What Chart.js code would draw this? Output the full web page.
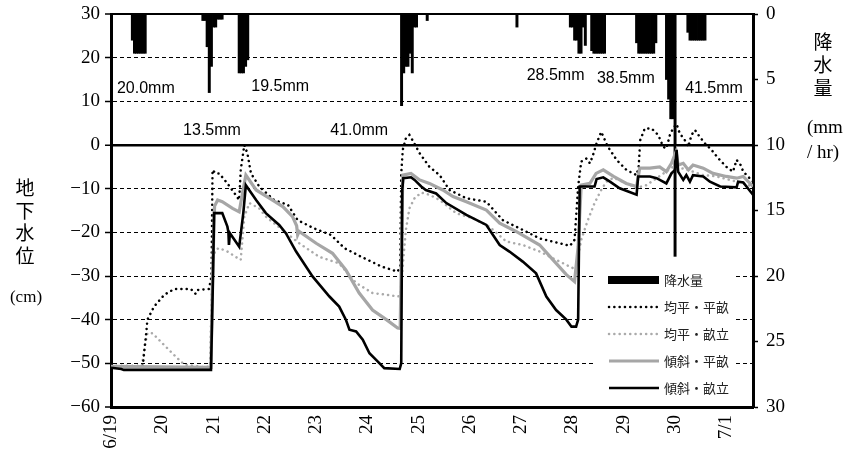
<!DOCTYPE html>
<html><head><meta charset="utf-8">
<script src="https://cdn.jsdelivr.net/npm/chart.js@4/dist/chart.umd.min.js"></script>
<style>html,body{margin:0;padding:0;background:#fff}#wrap{width:855px;height:467px;position:relative}</style>
</head><body><div id="wrap"><canvas id="c" width="855" height="467"></canvas></div>
<script>
// ---- categories / tick labels ----
const dayLabels = ['6/19','20','21','22','23','24','25','26','27','28','29','30','7/1'];
const seriesNames = ['降水量','均平・平畝','均平・畝立','傾斜・平畝','傾斜・畝立'];

// ---- hourly rainfall (hour from 6/19 0:00, mm/hr) ----
const rainHour = [10,11,12,13,14,15,16, 43,44,45,46,47,48,49,50,51,52, 60,61,62,63,64,
  136,137,138,139,140,141,142,143, 148, 190, 215,216,217,218,219,220,221,222,
  225,226,227,228,229,230,231, 246,247,248,249,250,251,252,253,254,255,
  260,261,262,263,264, 270,271,272,273,274,275,276,277,278];
const rainMm = [2,3,3,3,3,3,3, 0.5,0.5,2.5,6,4,1,1,0.4,0.4,0.4, 4.5,4.5,4.5,4,3.5,
  7,4.5,4,4,3,4.5,1,1, 0.5, 1, 1,1,2,2,3,3,1,2.4,
  2.8,3,3,3,3,3,3, 2.2,3,3,3,3,3,3,3,3,2.2,
  5,6.5,8,8,18.5, 1.4,2,2,2,2,2,2,2,2];

// ---- rain totals annotations ----
const totalText = ['20.0mm','13.5mm','19.5mm','41.0mm','28.5mm','38.5mm','41.5mm'];
const totalDay  = [0.68, 1.97, 3.30, 4.84, 8.67, 10.04, 11.76];
const totalLvl  = [13.0, 3.4, 13.3, 3.4, 15.8, 15.3, 13.0];

// ---- 均平・平畝 (black dotted) ----
const kpHeiT = [0,0.62,0.66,0.68,0.71,0.84,1.04,1.23,1.56,1.65,1.69,1.91,1.96,1.98,2.04,2.11,2.27,2.43,2.50,2.53,2.60,2.66,2.73,2.89,3.18,3.45,3.64,3.96,4.29,4.55,4.88,5.27,5.59,5.64,5.66,5.69,5.75,5.82,5.88,6.02,6.21,6.41,6.60,6.93,7.32,7.64,7.97,8.36,8.75,8.95,9.04,9.11,9.17,9.27,9.34,9.40,9.47,9.56,9.69,9.86,10.05,10.25,10.29,10.32,10.41,10.54,10.67,10.77,10.83,10.90,10.96,11.03,11.09,11.19,11.26,11.32,11.39,11.48,11.58,11.71,11.84,12.00,12.13,12.20,12.28,12.33,12.52];
const kpHeiV = [-50.6,-50.6,-46,-43.9,-40.0,-37.0,-34.3,-33.0,-33.0,-34.1,-33.2,-33.0,-30.1,-5.7,-6.5,-6.5,-8.8,-11.4,-12.6,-5.7,0.0,-1.9,-6.5,-9.5,-12.6,-13.7,-17.2,-19.1,-20.6,-23.6,-25.6,-27.8,-29.0,-27.8,-6.5,-1.1,1.5,2.3,1.1,-1.9,-5.0,-6.9,-10.3,-12.2,-13.0,-17.2,-19.1,-21.4,-22.5,-23.1,-21.7,-9.5,-3.8,-3.1,-4.2,-2.3,0.4,3.0,-0.4,-3.4,-5.7,-6.9,-5.0,1.1,3.8,3.8,2.3,-0.4,-0.8,2.3,3.8,4.8,2.7,1.1,-0.4,2.3,3.4,1.9,0.4,-1.1,-3.0,-5.0,-6.1,-3.4,-4.6,-6.1,-8.4];

// ---- 均平・畝立 (grey dotted) ----
const kpUneT = [0,0.60,0.66,0.71,0.81,1.00,1.23,1.43,1.82,1.93,1.98,2.04,2.11,2.27,2.43,2.53,2.60,2.70,2.89,3.02,3.35,3.67,4.06,4.45,4.78,5.10,5.37,5.59,5.64,5.69,5.75,5.82,5.92,6.05,6.21,6.41,6.73,7.06,7.38,7.71,8.03,8.36,8.68,9.01,9.07,9.17,9.30,9.43,9.56,9.66,9.80,10.05,10.25,10.44,10.64,10.96,11.20,11.55,11.81,12.07,12.20,12.52];
const kpUneV = [-50.7,-50.7,-46,-43.1,-43.1,-45.4,-48.1,-50.3,-50.9,-50.7,-26.3,-24.0,-23.6,-24.4,-25.6,-26.3,-16.4,-13.3,-14.5,-16.4,-19.5,-22.5,-25.6,-27.1,-31.6,-33.9,-34.3,-34.7,-34.5,-27.8,-19.5,-14.5,-12.2,-10.9,-11.4,-12.6,-15.6,-16.8,-18.7,-22.1,-22.9,-24.4,-26.3,-28.2,-27.8,-21.7,-17.2,-13.3,-10.3,-8.4,-7.5,-8.8,-9.8,-9.2,-7.6,-5.0,-5.5,-6.9,-7.2,-8.0,-8.4,-9.5];

// ---- 傾斜・平畝 (grey solid) ----
const ksHeiT = [0,1.95,1.98,2.02,2.08,2.17,2.37,2.50,2.58,2.63,2.83,3.15,3.35,3.54,3.62,3.64,3.67,4.00,4.32,4.58,4.84,5.10,5.37,5.59,5.64,5.67,5.69,5.85,6.02,6.21,6.47,6.67,6.93,7.32,7.58,7.90,8.36,8.62,8.88,9.04,9.11,9.17,9.34,9.46,9.60,9.80,10.05,10.25,10.31,10.51,10.70,10.83,10.93,11.02,11.06,11.16,11.26,11.35,11.55,11.74,12.00,12.20,12.33,12.52];
const ksHeiV = [-50.7,-50.9,-30,-14,-12.6,-13.0,-14.5,-15.3,-10,-6.9,-10.3,-12.6,-14.1,-16.4,-18.5,-20.6,-19.8,-22.5,-24.8,-28.6,-33.9,-37.8,-40.0,-41.9,-42.0,-20,-6.9,-6.5,-8.0,-8.8,-10.3,-11.8,-13.0,-14.9,-17.9,-19.8,-22.9,-26.3,-29.7,-31.3,-23.3,-9.2,-8.8,-6.5,-5.7,-7.2,-8.8,-9.5,-5.3,-5.3,-5.0,-6.1,-4.2,-1.5,-4.6,-4.2,-5.7,-4.6,-5.3,-6.5,-7.2,-7.6,-7.2,-9.5];

// ---- 傾斜・畝立 (black solid) ----
const ksUneT = [0,0.2,0.25,1.95,1.99,2.01,2.17,2.27,2.29,2.30,2.32,2.50,2.58,2.63,2.83,3.02,3.28,3.41,3.61,3.93,4.26,4.45,4.58,4.65,4.78,4.91,5.04,5.17,5.33,5.63,5.66,5.68,5.70,5.85,5.92,6.05,6.14,6.34,6.54,6.93,7.32,7.58,7.77,8.03,8.29,8.49,8.68,8.88,8.98,9.07,9.11,9.14,9.30,9.43,9.47,9.60,9.73,9.92,10.25,10.28,10.51,10.64,10.83,10.93,11.00,11.03,11.06,11.16,11.22,11.29,11.35,11.55,11.68,11.88,12.20,12.23,12.33,12.52];
const ksUneV = [-51.0,-51.3,-51.5,-51.5,-30,-15.6,-15.6,-18.7,-20.0,-22.9,-20.2,-23.3,-15.6,-9.2,-12.6,-15.6,-18.3,-20.2,-24.4,-30.1,-34.7,-37.0,-40.0,-42.3,-42.7,-44.6,-47.7,-49.2,-51.1,-51.3,-50.0,-10.3,-7.6,-7.4,-8.0,-9.5,-10.3,-11.1,-13.3,-16.0,-18.3,-22.9,-24.4,-26.7,-29.4,-34.7,-37.8,-40.0,-41.6,-41.6,-40.0,-9.5,-9.5,-9.5,-7.8,-7.4,-8.4,-9.9,-11.4,-7.2,-7.2,-7.6,-8.8,-6.5,-5.7,-1.1,-6.1,-8.0,-6.9,-8.4,-6.9,-7.2,-8.4,-9.5,-9.7,-8.4,-8.6,-11.4];

const zip = (t, v) => t.map((x, i) => ({x: x, y: v[i]}));
const rainData = rainHour.map((h, i) => ({x: h / 24, y: rainMm[i]}));

const serif = '"Liberation Serif", "DejaVu Serif", serif';
const sans = '"Liberation Sans", Arial, sans-serif';
const cjk = '"Noto Sans CJK JP", "Noto Sans", sans-serif';

const textPlugin = {
  id: 'texts',
  afterDatasetsDraw(chart) {
    const ctx = chart.ctx;
    const xs = chart.scales.x, ys = chart.scales.y;
    ctx.save();
    // rain totals
    ctx.fillStyle = '#000';
    ctx.font = '16px ' + sans;
    ctx.textAlign = 'center';
    ctx.textBaseline = 'middle';
    totalText.forEach((t, i) => {
      ctx.fillText(t, xs.getPixelForValue(totalDay[i]), ys.getPixelForValue(totalLvl[i]));
    });
    // legend
    const lx = 596, ly = 266, lw = 140, lh = 134;
    ctx.fillStyle = '#fff';
    ctx.fillRect(lx, ly, lw, lh);
    const ds = chart.data.datasets;
    ds.forEach((d, i) => {
      const y = 280 + i * 27;
      ctx.save();
      if (d.type === 'bar') {
        ctx.fillStyle = '#000';
        ctx.fillRect(608, y - 4, 51, 8);
      } else {
        ctx.strokeStyle = d.borderColor;
        ctx.lineWidth = d.borderWidth;
        ctx.lineCap = d.borderCapStyle || 'butt';
        ctx.setLineDash(d.borderDash || []);
        ctx.beginPath();
        ctx.moveTo(609, y);
        ctx.lineTo(659, y);
        ctx.stroke();
      }
      ctx.restore();
      ctx.fillStyle = '#222';
      ctx.font = '13px ' + cjk;
      ctx.textAlign = 'left';
      ctx.textBaseline = 'middle';
      ctx.fillText(d.label, 664, y);
    });
    // axis titles
    ctx.fillStyle = '#000';
    ctx.textAlign = 'center';
    ctx.textBaseline = 'middle';
    ctx.font = '19px ' + cjk;
    ['地','下','水','位'].forEach((c, i) => ctx.fillText(c, 25, 188 + i * 22.5));
    ['降','水','量'].forEach((c, i) => ctx.fillText(c, 823, 42 + i * 23));
    ctx.font = '17px ' + serif;
    ctx.fillText('(cm)', 26, 298);
    ctx.textAlign = 'left';
    ctx.font = '19px ' + serif;
    ctx.fillText('(mm', 807, 128);
    ctx.fillText('/ hr)', 807, 153);
    ctx.restore();
  }
};

const solidAt = [30, 0, -60];
const noPad = s => { s.paddingTop = 0; s.paddingBottom = 0; };

new Chart(document.getElementById('c'), {
  type: 'line',
  data: {
    datasets: [
      { type: 'bar', label: seriesNames[0], data: rainData, yAxisID: 'y2', xAxisID: 'x',
        backgroundColor: '#000', borderWidth: 0, barThickness: 2.3, order: 5 },
      { label: seriesNames[1], data: zip(kpHeiT, kpHeiV), yAxisID: 'y', borderColor: '#000',
        borderWidth: 2.5, borderDash: [0.1, 5.2], borderCapStyle: 'round', pointRadius: 0, tension: 0, order: 3 },
      { label: seriesNames[2], data: zip(kpUneT, kpUneV), yAxisID: 'y', borderColor: '#aaaaaa',
        borderWidth: 2.5, borderDash: [0.1, 5.2], borderCapStyle: 'round', pointRadius: 0, tension: 0, order: 4 },
      { label: seriesNames[3], data: zip(ksHeiT, ksHeiV), yAxisID: 'y', borderColor: '#a6a6a6',
        borderWidth: 3.2, pointRadius: 0, tension: 0, order: 2 },
      { label: seriesNames[4], data: zip(ksUneT, ksUneV), yAxisID: 'y', borderColor: '#000',
        borderWidth: 2.6, pointRadius: 0, tension: 0, order: 1 }
    ]
  },
  options: {
    responsive: false, animation: false, devicePixelRatio: 1,
    layout: { padding: { top: 14, left: 0, right: 0, bottom: 0 } },
    plugins: { legend: { display: false }, tooltip: { enabled: false } },
    scales: {
      x: {
        type: 'linear', min: 0, max: 12.52, offset: false,
        afterBuildTicks: s => { s.ticks = dayLabels.map((l, i) => ({ value: i })); },
        afterFit: s => { s.height = 60; s.paddingLeft = 0; s.paddingRight = 0; },
        ticks: { callback: (v, i) => dayLabels[i], minRotation: 90, maxRotation: 90, autoSkip: false,
          font: { family: serif, size: 19 }, color: '#000', padding: 8 },
        grid: { display: false, drawTicks: false },
        border: { display: true, width: 3, color: '#000' }
      },
      y: {
        position: 'left', min: -60, max: 30,
        afterFit: s => { s.width = 111; noPad(s); },
        ticks: { stepSize: 10, callback: v => v < 0 ? '\u2212' + Math.abs(v) : String(v),
          font: { family: serif, size: 19 }, color: '#000', padding: 5 },
        grid: { color: '#000', lineWidth: c => (c.tick && c.tick.value === 0) ? 2.5 : (c.tick && solidAt.includes(c.tick.value) ? 2 : 1),
          tickLength: 6, tickWidth: 1.5, tickColor: '#000' },
        border: { width: 3, color: '#000', dash: c => (c.tick && solidAt.includes(c.tick.value)) ? [] : [4, 3] }
      },
      y2: {
        position: 'right', reverse: true, min: 0, max: 30,
        afterFit: s => { s.width = 102; noPad(s); },
        ticks: { stepSize: 5, font: { family: serif, size: 19 }, color: '#000', padding: 8 },
        grid: { drawOnChartArea: false, tickLength: 5, tickWidth: 1.5, tickColor: '#000', color: '#000' },
        border: { width: 3, color: '#000' }
      }
    }
  },
  plugins: [textPlugin]
});
</script></body></html>
